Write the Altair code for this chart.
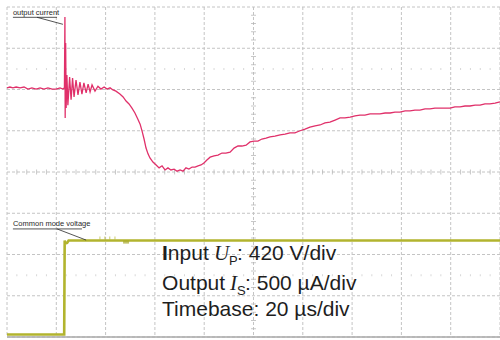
import altair as alt
import pandas as pd

# Oscilloscope screen: 10 horizontal divisions of 20 µs, 8 vertical divisions
time_grid_us = [0, 20, 40, 60, 80, 100, 120, 140, 160, 180, 200]
level_grid_div = [-4, -3, -2, -1, 0, 1, 2, 3, 4]

# Output current trace (screen divisions, 500 µA/div)
current_t_us = [
    0.0, 1.2, 2.4, 3.7, 5.3, 6.9, 8.5, 10.1, 11.8, 13.4, 15.0, 16.6, 18.3, 19.9,
    21.5, 22.7, 23.3, 23.5, 23.6, 23.8, 24.0, 24.3, 24.7, 25.4, 26.0, 26.6, 27.2,
    28.0, 28.8, 29.6, 30.4, 31.2, 32.1, 32.9, 33.7, 34.5, 35.7, 36.9, 38.1, 39.4,
    40.6, 41.8, 43.0, 44.2, 45.8, 47.1, 48.3, 49.5, 50.7, 51.9, 53.1, 54.0, 54.8,
    55.6, 56.4, 57.2, 58.0, 59.2, 60.5, 61.7, 62.9, 64.1, 65.3, 66.5, 67.8, 69.0,
    70.2, 71.4, 72.6, 73.8, 75.1, 76.3, 77.5, 78.7, 79.9, 81.1, 82.4, 84.0, 85.6,
    87.2, 88.8, 90.5, 92.1, 93.7, 95.3, 97.0, 98.6, 100.2, 101.8, 103.4, 105.1,
    106.7, 108.7, 110.8, 112.8, 114.8, 116.8, 118.9, 120.9, 122.9, 125.0, 127.0,
    129.0, 131.0, 133.1, 135.1, 137.1, 139.2, 141.2, 143.2, 145.2, 147.3, 149.3,
    151.3, 153.4, 155.4, 157.4, 159.4, 161.5, 163.5, 165.5, 167.5, 169.6, 171.6,
    173.6, 175.7, 177.7, 179.7, 181.7, 183.8, 185.8, 187.8, 189.9, 191.9, 193.9,
    195.9, 198.0, 200.0,
]
current_div = [
    2.04, 2.06, 2.04, 2.06, 2.04, 2.06, 2.01, 2.04, 2.01, 2.04, 2.01, 2.04, 2.01, 2.01,
    2.04, 2.01, 2.04, 3.76, 1.31, 3.13, 1.55, 2.35, 1.62, 2.30, 1.75, 2.28, 1.82,
    2.23, 1.87, 2.18, 1.89, 2.16, 1.92, 2.13, 1.94, 2.11, 1.96, 2.08, 2.01, 2.06,
    2.01, 2.04, 1.99, 1.96, 1.89, 1.82, 1.72, 1.65, 1.55, 1.43, 1.28, 1.16, 0.99,
    0.80, 0.58, 0.44, 0.34, 0.24, 0.17, 0.10, 0.15, 0.05, 0.10, 0.05, 0.07, 0.02,
    0.05, 0.02, 0.10, 0.07, 0.12, 0.12, 0.15, 0.17, 0.22, 0.29, 0.36, 0.39, 0.41,
    0.46, 0.46, 0.48, 0.58, 0.63, 0.63, 0.65, 0.73, 0.75, 0.75, 0.80, 0.82,
    0.85, 0.87, 0.90, 0.92, 0.95, 0.95, 1.00, 1.04, 1.09, 1.12, 1.14,
    1.19, 1.21, 1.26, 1.31, 1.31, 1.33, 1.36, 1.38, 1.38, 1.41, 1.41,
    1.41, 1.43, 1.43, 1.45, 1.45, 1.48, 1.48, 1.50, 1.50, 1.53, 1.53,
    1.55, 1.55, 1.55, 1.55, 1.58, 1.58, 1.60, 1.60, 1.62, 1.62, 1.65,
    1.65, 1.67, 1.70,
]

# Common mode voltage trace (screen divisions, 420 V/div)
voltage_t_us = [0.0, 23.2, 23.4, 23.7, 24.4, 25.0, 200.0]
voltage_div = [-3.94, -3.94, -1.66, -1.73, -1.72, -1.66, -1.66]
# short glitches riding on the voltage trace
glitch_t_us = [37.7, 39.7, 41.7, 43.8]
glitch_div = [-1.60, -1.60, -1.60, -1.60]
blob_t_us = [48.3]
blob_div = [-1.70]

# Minor graticule marks: 5 per division
minor_t_us = [i * 4 for i in range(51) if i % 5 != 0]
minor_level_div = [round(-4 + i * 0.2, 1) for i in range(41) if i % 5 != 0]

W, H = 493, 330
xs = alt.Scale(domain=[0, 200], nice=False, zero=False)
ys = alt.Scale(domain=[-4, 4], nice=False, zero=False)
GRID = "#c4c4c4"
RED = "#e0306a"
OLIVE = "#b2b42e"
TEXT = "#1e1e1e"


def enc(chart):
    return chart.encode(x=alt.X("t:Q", scale=xs, axis=None), y=alt.Y("v:Q", scale=ys, axis=None))


# graticule
vgrid = alt.Chart(pd.DataFrame({"t": time_grid_us})).mark_rule(
    color=GRID, strokeDash=[3, 2], strokeWidth=1
).encode(x=alt.X("t:Q", scale=xs, axis=None))
hgrid = alt.Chart(pd.DataFrame({"v": level_grid_div})).mark_rule(
    color=GRID, strokeDash=[3, 2], strokeWidth=1
).encode(y=alt.Y("v:Q", scale=ys, axis=None))
bottom = alt.Chart(pd.DataFrame({"v": [-4]})).mark_rule(
    color="#a8a8a8", strokeWidth=1.5
).encode(y=alt.Y("v:Q", scale=ys, axis=None))

h_ticks = enc(alt.Chart(pd.DataFrame({"t": minor_t_us, "v": [0] * len(minor_t_us)})).mark_tick(
    orient="vertical", size=5, thickness=1, color="#b0b0b0"
))
v_ticks = enc(alt.Chart(pd.DataFrame({"v": minor_level_div, "t": [100] * len(minor_level_div)})).mark_tick(
    orient="horizontal", size=5, thickness=1, color="#b0b0b0"
))
dot_rows = enc(alt.Chart(pd.DataFrame({
    "t": minor_t_us * 2,
    "v": [2.5] * len(minor_t_us) + [-2.5] * len(minor_t_us),
})).mark_tick(orient="vertical", size=2, thickness=1, color="#c8c8c8"))

# traces
current = enc(alt.Chart(pd.DataFrame({"t": current_t_us, "v": current_div})).mark_line(
    color=RED, strokeWidth=1.3
))
voltage = enc(alt.Chart(pd.DataFrame({"t": voltage_t_us, "v": voltage_div})).mark_line(
    color=OLIVE, strokeWidth=2.6
))
glitches = enc(alt.Chart(pd.DataFrame({"t": glitch_t_us, "v": glitch_div})).mark_tick(
    orient="vertical", size=3, thickness=1, color=OLIVE
))
blob = enc(alt.Chart(pd.DataFrame({"t": blob_t_us, "v": blob_div})).mark_tick(
    orient="horizontal", size=6, thickness=3, color="#a6a82a"
))

# trace labels with underline and leader line
labels = pd.DataFrame({
    "t": [2.4, 2.4],
    "v": [3.86, -1.27],
    "label": ["output current", "Common mode voltage"],
})
label_text = alt.Chart(labels).mark_text(
    align="left", baseline="middle", fontSize=7.5, font="Liberation Sans", color="#2a2a2a"
).encode(x=alt.X("t:Q", scale=xs, axis=None), y=alt.Y("v:Q", scale=ys, axis=None), text="label:N")
leaders = pd.DataFrame({
    "t": [2.4, 12.2, 2.4, 20.3],
    "v": [3.75, 3.75, -1.38, -1.38],
    "t2": [20.3, 22.7, 30.4, 32.1],
    "v2": [3.75, 3.58, -1.38, -1.65],
})
leader_lines = alt.Chart(leaders).mark_rule(color="#2a2a2a", strokeWidth=0.8).encode(
    x=alt.X("t:Q", scale=xs, axis=None), y=alt.Y("v:Q", scale=ys, axis=None),
    x2="t2:Q", y2="v2:Q",
)

# channel settings
info_t = 62.9
info_rows = [-2.13, -2.85, -3.49]


def piece(text, row, dx, size=21, font="Liberation Sans", style="normal", weight="normal", dy=0):
    return enc(alt.Chart(pd.DataFrame({"t": [info_t], "v": [info_rows[row]], "s": [text]})).mark_text(
        align="left", baseline="alphabetic", fontSize=size, font=font, fontStyle=style,
        fontWeight=weight, color=TEXT, dx=dx, dy=dy,
    )).encode(text="s:N")


info = [
    piece("I", 0, 0, weight="bold"),
    piece("nput", 0, 5.8),
    piece("U", 0, 52, font="Liberation Serif", style="italic"),
    piece("P", 0, 67, size=13, dy=5),
    piece(": 420 V/div", 0, 75),
    piece("Output", 1, 0),
    piece("I", 1, 68, font="Liberation Serif", style="italic"),
    piece("S", 1, 75, size=13, dy=5),
    piece(": 500 µA/div", 1, 83),
    piece("Timebase: 20 µs/div", 2, 0),
]

chart = alt.layer(
    vgrid, hgrid, bottom, h_ticks, v_ticks, dot_rows,
    voltage, glitches, blob, current, leader_lines, label_text, *info
).properties(
    width=W, height=H,
    padding={"left": 7, "top": 7, "right": 0, "bottom": 3},
    autosize=alt.AutoSizeParams(type="none"),
    background="white",
).configure_view(stroke=None)

chart.save("out.html", embed_options={"renderer": "svg", "actions": False})
